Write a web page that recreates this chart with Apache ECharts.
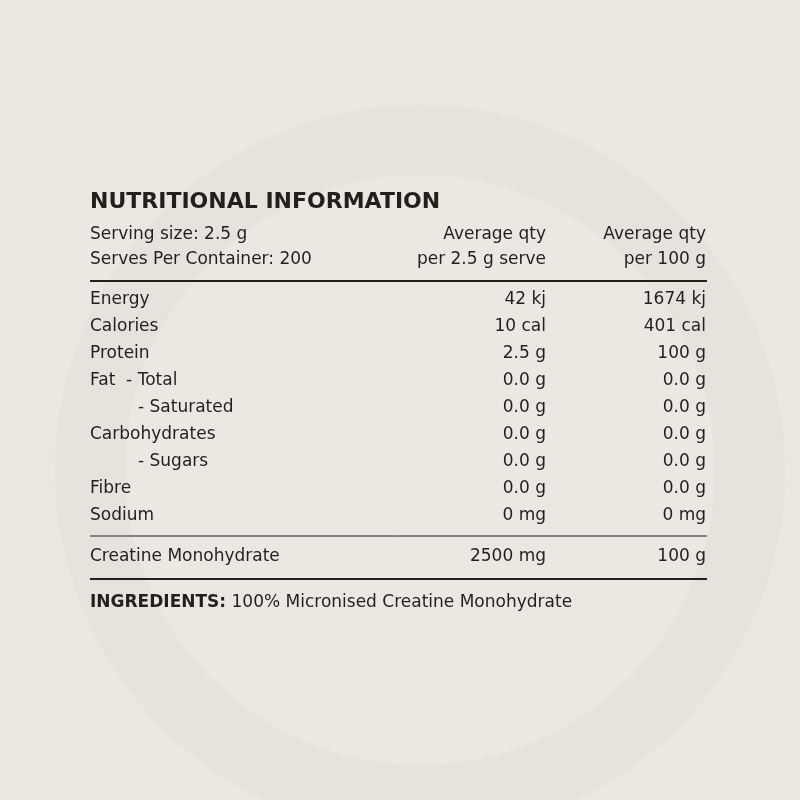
<!DOCTYPE html>
<html><head><meta charset="utf-8">
<script src="https://cdn.jsdelivr.net/npm/echarts@6/dist/echarts.min.js"></script>
<style>html,body{margin:0;padding:0;background:#ebe7e1}#c{width:800px;height:800px}</style>
</head><body><div id="c"></div>
<script>
const title = "NUTRITIONAL INFORMATION";
const headerLeft = ["Serving size: 2.5 g", "Serves Per Container: 200"];
const headerCol2 = ["Average qty", "per 2.5 g serve"];
const headerCol3 = ["Average qty", "per 100 g"];
const nutrients = ["Energy", "Calories", "Protein", "Fat  - Total", "       - Saturated", "Carbohydrates", "       - Sugars", "Fibre", "Sodium"];
const perServe = ["42 kj", "10 cal", "2.5 g", "0.0 g", "0.0 g", "0.0 g", "0.0 g", "0.0 g", "0 mg"];
const per100 = ["1674 kj", "401 cal", "100 g", "0.0 g", "0.0 g", "0.0 g", "0.0 g", "0.0 g", "0 mg"];
const activeName = "Creatine Monohydrate", activeServe = "2500 mg", active100 = "100 g";
const ingredientsLabel = "INGREDIENTS:", ingredientsText = " 100% Micronised Creatine Monohydrate";

const chart = echarts.init(document.getElementById('c'));
const F = '"DejaVu Sans", sans-serif', col = '#231f1c';
const L = 90, C2 = 546, C3 = 706;
const g = [];
g.push({type:'circle', shape:{cx:420, cy:470, r:330}, style:{fill:'none', stroke:'#e6e2dc', lineWidth:70}, z:0});
function t(x,y,text,align,opt){g.push({type:'text', x, y, z:5, style:Object.assign({text, fill:col, font:'17px '+F, textAlign:align||'left', textVerticalAlign:'middle'},opt||{})});}
function line(y,w){g.push({type:'line', z:5, shape:{x1:L,y1:y,x2:C3+1,y2:y}, style:{stroke:col,lineWidth:w}});}
t(L,202,title,'left',{font:'bold 22px '+F});
headerLeft.forEach((s,i)=>{t(L,235+i*25,s); t(C2,235+i*25,headerCol2[i],'right'); t(C3,235+i*25,headerCol3[i],'right');});
line(281,2);
nutrients.forEach((s,i)=>{const y=300+i*26.9; t(s.startsWith(' ')?L+48:L,y,s.replace(/^ +/, '')); t(C2,y,perServe[i],'right'); t(C3,y,per100[i],'right');});
line(536,1);
t(L,557,activeName); t(C2,557,activeServe,'right'); t(C3,557,active100,'right');
line(579,2);
g.push({type:'text', x:L, y:603, z:5, style:{text:'{b|'+ingredientsLabel+'}'+ingredientsText, fill:col, font:'17px '+F, textVerticalAlign:'middle', rich:{b:{font:'bold 17px '+F, fill:col}}}});
chart.setOption({backgroundColor:'#ebe7e1', graphic:g});
</script></body></html>
